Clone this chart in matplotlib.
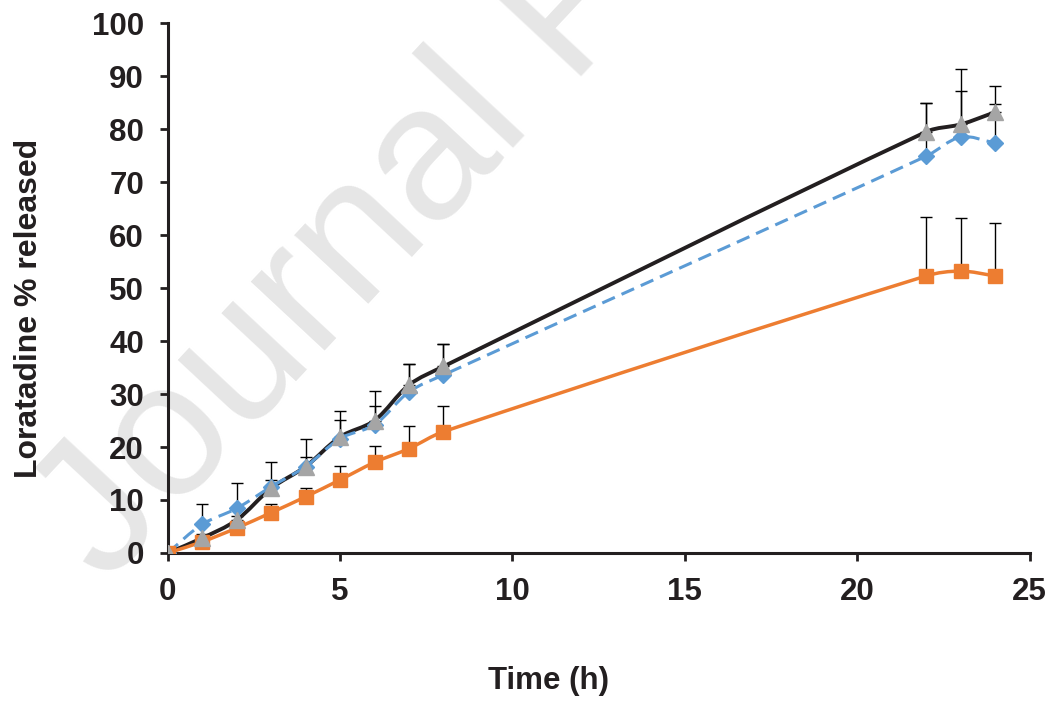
import numpy as np
import matplotlib
matplotlib.use("Agg")
import matplotlib.pyplot as plt
from matplotlib.path import Path
from matplotlib.patches import PathPatch

# release data (time in h, % released, upper SD)
time_h = [0, 1, 2, 3, 4, 5, 6, 7, 8, 22, 23, 24]

blue_mean = [0, 5.4, 8.4, 12.5, 16.3, 21.6, 24.2, 30.4, 33.6, 74.9, 78.5, 77.4]
blue_sd = [0, 3.9, 4.9, 4.7, 5.3, 5.2, 6.4, 5.2, 5.8, 10.1, 8.7, 7.3]

orange_mean = [0, 2.1, 4.7, 7.6, 10.6, 13.8, 17.1, 19.7, 22.9, 52.3, 53.2, 52.3]
orange_sd = [0, 0.5, 0.5, 1.6, 1.7, 2.7, 3.1, 4.3, 4.8, 11.1, 10.0, 10.0]

gray_mean = [0, 2.8, 6.2, 12.2, 16.3, 21.9, 25.0, 31.7, 35.2, 79.5, 80.9, 83.2]
gray_sd = [0, 0.8, 0.8, 1.6, 1.9, 3.2, 2.7, 3.9, 4.2, 5.5, 10.4, 4.9]

x_ticks = [0, 5, 10, 15, 20, 25]
y_ticks = [0, 10, 20, 30, 40, 50, 60, 70, 80, 90, 100]

BLUE = "#5b9bd5"
ORANGE = "#ed7d31"
GRAY = "#a5a5a5"
INK = "#231f20"

plt.rcParams["font.family"] = ["Liberation Sans", "DejaVu Sans"]


def smooth_path(ax, xs, ys, k=0.5):
    # Excel-like smoothed line: Bezier segments, tangents scaled by chord length
    pts = np.column_stack([xs, ys]).astype(float)
    disp = ax.transData.transform(pts)
    n = len(pts)

    def dist(i, j):
        return np.hypot(*(disp[j] - disp[i]))

    verts = [pts[0]]
    codes = [Path.MOVETO]
    for i in range(n - 1):
        i0 = max(i - 1, 0)
        i3 = min(i + 2, n - 1)
        d01, d12, d23 = dist(i0, i), dist(i, i + 1), dist(i + 1, i3)
        c1 = pts[i] + (pts[i + 1] - pts[i0]) * k * d12 / (d01 + d12) * 2 / 3
        c2 = pts[i + 1] - (pts[i3] - pts[i]) * k * d12 / (d12 + d23) * 2 / 3
        verts += [c1, c2, pts[i + 1]]
        codes += [Path.CURVE4] * 3
    return Path(verts, codes)


fig = plt.figure(figsize=(10.54, 7.02), dpi=100)
ax = fig.add_axes([0.159, 0.2123, 0.818, 0.7547])
ax.patch.set_alpha(0)
ax.set_xlim(0, 25)
ax.set_ylim(0, 100)

# watermark, kept behind the axes
fig.text(0.10, 0.166, "Journal Pre-proof", fontsize=138, color="#e6e6e6",
         rotation=47, rotation_mode="anchor", ha="left", va="baseline", zorder=-1)

series = [
    (gray_mean, gray_sd, GRAY, "^", 11, INK, "-", 2.8),
    (orange_mean, orange_sd, ORANGE, "s", 10, ORANGE, "-", 2.5),
    (blue_mean, blue_sd, BLUE, "D", 8, BLUE, (0, (4.5, 2.4)), 2.2),
]

t = np.array(time_h)
for mean, sd, mcol, mk, ms, lcol, ls, lw in series:
    mean = np.array(mean)
    sd = np.array(sd)
    ax.errorbar(t, mean, yerr=[np.zeros_like(sd), sd], fmt="none", ecolor="black",
                elinewidth=1.0, capsize=4.3, capthick=1.0, zorder=2)

for mean, sd, mcol, mk, ms, lcol, ls, lw in series:
    patch = PathPatch(smooth_path(ax, time_h, mean), facecolor="none", edgecolor=lcol,
                      linewidth=lw, linestyle=ls, capstyle="butt", zorder=3)
    ax.add_patch(patch)

for mean, sd, mcol, mk, ms, lcol, ls, lw in series[::-1]:
    ax.plot(time_h, mean, linestyle="none", marker=mk, markersize=ms,
            markerfacecolor=mcol, markeredgecolor=mcol, zorder=4)

ax.set_xticks(x_ticks)
ax.set_yticks(y_ticks)
ax.tick_params(direction="out", length=6, width=2, color=INK, labelsize=22.5,
               labelcolor=INK)
ax.tick_params(axis="x", pad=11)
ax.tick_params(axis="y", pad=11)
for lab in ax.get_xticklabels() + ax.get_yticklabels():
    lab.set_fontweight("bold")

for side in ["top", "right"]:
    ax.spines[side].set_visible(False)
for side in ["left", "bottom"]:
    ax.spines[side].set_linewidth(2.2)
    ax.spines[side].set_color(INK)

ax.set_xlabel("Time (h)", fontsize=22.5, fontweight="bold", color=INK)
ax.set_ylabel("Loratadine % released", fontsize=23, fontweight="bold", color=INK)
ax.xaxis.set_label_coords(0.442, -0.213)
ax.yaxis.set_label_coords(-0.143, 0.462)

fig.savefig("out.png", dpi=100)
